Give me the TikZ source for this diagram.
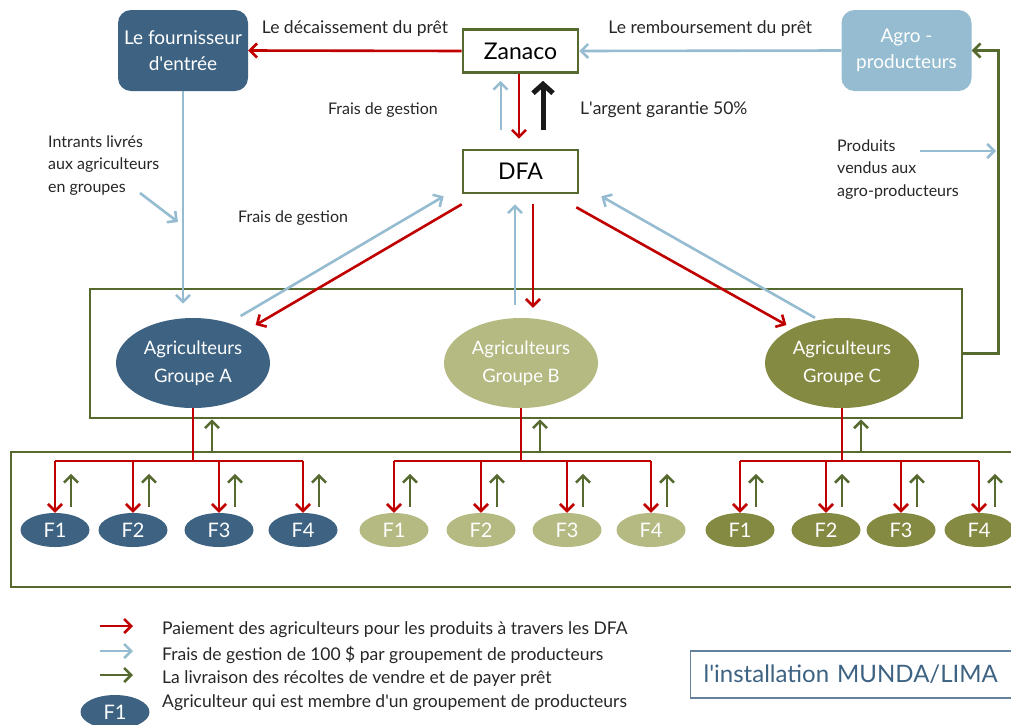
\documentclass[tikz,border=0pt]{standalone}
\usepackage{fontspec}
\setmainfont{Lato}
\usetikzlibrary{arrows.meta,shapes.geometric,positioning}

\definecolor{zblue}{HTML}{3D6282}
\definecolor{zsky}{HTML}{95BCD0}
\definecolor{zred}{HTML}{C00000}
\definecolor{zgreen}{HTML}{56692F}
\definecolor{zsage}{HTML}{B4BA81}
\definecolor{zolive}{HTML}{858A42}

\tikzset{
  flow/.style={line width=2.6pt, -{Straight Barb[length=7pt,width=14pt,line width=2.6pt]}},
  pay/.style={flow, draw=zred},
  fee/.style={flow, draw=zsky},
  crop/.style={flow, draw=zgreen},
  tree/.style={draw=zred, line width=2.6pt},
  lbl/.style={text=black!85, inner sep=0pt, align=left, font=\fontsize{16}{22.5}\selectfont},
  biglbl/.style={lbl, font=\fontsize{17.5}{22.5}\selectfont},
}

\begin{document}
\begin{tikzpicture}[x=1pt,y=-1pt,
  box/.style={draw=zgreen, line width=2.6pt, fill=white, minimum width=115pt, minimum height=43pt, font=\fontsize{23}{26}\selectfont},
  softbox/.style={rounded corners=13pt, minimum width=130pt, minimum height=81pt, text=white, align=center, font=\fontsize{19}{26}\selectfont},
  frame/.style={draw=zgreen, line width=2.6pt},
  group/.style={ellipse, minimum width=154pt, minimum height=90pt, inner sep=0pt, text=white, align=center, font=\fontsize{18.5}{28}\selectfont},
  farm/.style={ellipse, minimum width=69pt, minimum height=34pt, inner sep=0pt, text=white, font=\fontsize{20}{22}\selectfont}]

    \useasboundingbox (0,0) rectangle (1011,724);

    % top row
    \node[softbox, fill=zblue] (four) at (183,50.5) {Le fournisseur\\d\textquotesingle entrée};
    \node[box] (zan) at (520.5,51) {Zanaco};
    \node[box] (dfa) at (520.5,171.5) {DFA};
    \node[softbox, fill=zsky] (agro) at (906.5,50.5) {Agro -\\producteurs};

    % the two frames
    \node[frame, minimum width=872pt, minimum height=129pt] (grp) at (526,353.5) {};
    \node[frame, minimum width=1020pt, minimum height=135pt] (base) at (521,519.5) {};

    \node[group, fill=zblue] (ga) at (193,363) {Agriculteurs\\Groupe A};
    \node[group, fill=zsage] (gb) at (521,363) {Agriculteurs\\Groupe B};
    \node[group, fill=zolive] (gc) at (842,363) {Agriculteurs\\Groupe C};

    \foreach \x [count=\i] in {55,133,219,303} \node[farm, fill=zblue] (a\i) at (\x,530) {F\i};
    \foreach \x [count=\i] in {394,481,567,651} \node[farm, fill=zsage] (b\i) at (\x,530) {F\i};
    \foreach \x [count=\i] in {740,826,901,979} \node[farm, fill=zolive] (c\i) at (\x,530) {F\i};

    % loan and repayment
    \draw[pay] (zan.west) -- node[biglbl, above=13pt] (ldec) {Le décaissement du prêt} (four.east);
    \draw[fee] (agro.west) -- node[biglbl, above=13pt] (lremb) {Le remboursement du prêt} (zan.east);
    \draw[crop] (grp.east) -| ([xshift=27pt]agro.east) -- (agro.east);

    % Zanaco <-> DFA
    \draw[fee, line width=2pt] ([xshift=-20pt,yshift=19pt]dfa.north) -- ([xshift=-20pt,yshift=-7pt]zan.south);
    \draw[pay] ([xshift=-1.5pt]zan.south) -- ([xshift=-1.5pt,yshift=10pt]dfa.north);
    \draw[line width=5pt, -{Straight Barb[length=9pt,width=20pt,line width=5pt]}, black!90] ([xshift=22.5pt,yshift=19pt]dfa.north) -- ([xshift=22.5pt,yshift=-7pt]zan.south);
    \node[lbl, anchor=east] (lfz) at (438,110) {Frais de gestion};
    \node[biglbl, anchor=west] (lgar) at (580,110) {L\textquotesingle argent garantie 50\%};

    % inputs
    \draw[fee] (four.south) -- ([yshift=-16pt]four.south |- grp.north);
    \node[lbl, anchor=west] (lint) at (48,165.5) {Intrants livrés\\aux agriculteurs\\en groupes};
    \coordinate (int1) at (140,193);
    \coordinate (int2) at (178,222);
    \draw[fee] (int1) -- (int2);

    % products sold
    \node[lbl, anchor=west] (lprod) at (837,169.5) {Produits\\vendus aux\\agro-producteurs};
    \coordinate (prod1) at (920,151);
    \coordinate (prod2) at (996,151);
    \draw[fee] (prod1) -- (prod2);

    % DFA <-> groups
    \node[lbl, anchor=west] (lfg) at (238,218) {Frais de gestion};
    \draw[fee] ([xshift=-7pt,yshift=15pt]ga.north east) -- ([xshift=-18pt,yshift=-2pt]dfa.south west);
    \draw[pay] ([yshift=-10pt]dfa.south west) -- ([xshift=8pt,yshift=6pt]ga.north east);
    \draw[fee] ([xshift=-6pt,yshift=13pt]gb.north) -- ([xshift=-5.5pt,yshift=-10pt]dfa.south);
    \draw[pay] ([xshift=12.5pt,yshift=-10pt]dfa.south) -- ([xshift=12pt,yshift=10pt]gb.north);
    \draw[pay] ([xshift=-3pt,yshift=-13pt]dfa.south east) -- ([xshift=-1pt,yshift=6pt]gc.north west);
    \draw[fee] ([xshift=-27pt]gc.north) -- ([xshift=22pt,yshift=-2pt]dfa.south east);

    % groups <-> farmers
    \coordinate (bar) at (0,461);
    \foreach \g/\d in {a/ga, b/gb, c/gc} {
        \draw[tree] (\d.south) -- (\d.south |- bar);
        \draw[tree] (\g1.north |- bar) -- (\g4.north |- bar);
        \draw[crop] ([xshift=19pt]\d.south |- base.north) -- ([xshift=19pt]\d.south |- grp.south);
        \foreach \i in {1,...,4} {
            \draw[pay] (\g\i.north |- bar) -- (\g\i.north);
            \draw[crop] ([xshift=16pt,yshift=6pt]\g\i.north) -- ++(0,-33);
        }
    }

    % legend
    \coordinate (k1) at (100,626); \coordinate (k1e) at (133,626);
    \coordinate (k2) at (100,651); \coordinate (k2e) at (133,651);
    \coordinate (k3) at (100,675); \coordinate (k3e) at (133,675);
    \draw[pay] (k1) -- (k1e);
    \draw[fee] (k2) -- (k2e);
    \draw[crop] (k3) -- (k3e);
    \node[farm, fill=zblue] (key) at (115,712) {F1};
    \node[biglbl, anchor=west] (t1) at (162,630) {Paiement des agriculteurs pour les produits à travers les DFA};
    \node[biglbl, anchor=west] (t2) at (162,655) {Frais de gestion de 100 \$ par groupement de producteurs};
    \node[biglbl, anchor=west] (t3) at (162,679) {La livraison des récoltes de vendre et de payer prêt};
    \node[biglbl, anchor=west] (t4) at (162,703) {Agriculteur qui est membre d\textquotesingle un groupement de producteurs};

    \node[draw=zblue!80, line width=1.2pt, anchor=west, minimum height=47pt, inner xsep=13pt, text width=300pt, align=left, text=zblue, font=\fontsize{24}{26}\selectfont] (munda) at (690,674.5) {l\textquotesingle installation MUNDA/LIMA};

\end{tikzpicture}
\end{document}
